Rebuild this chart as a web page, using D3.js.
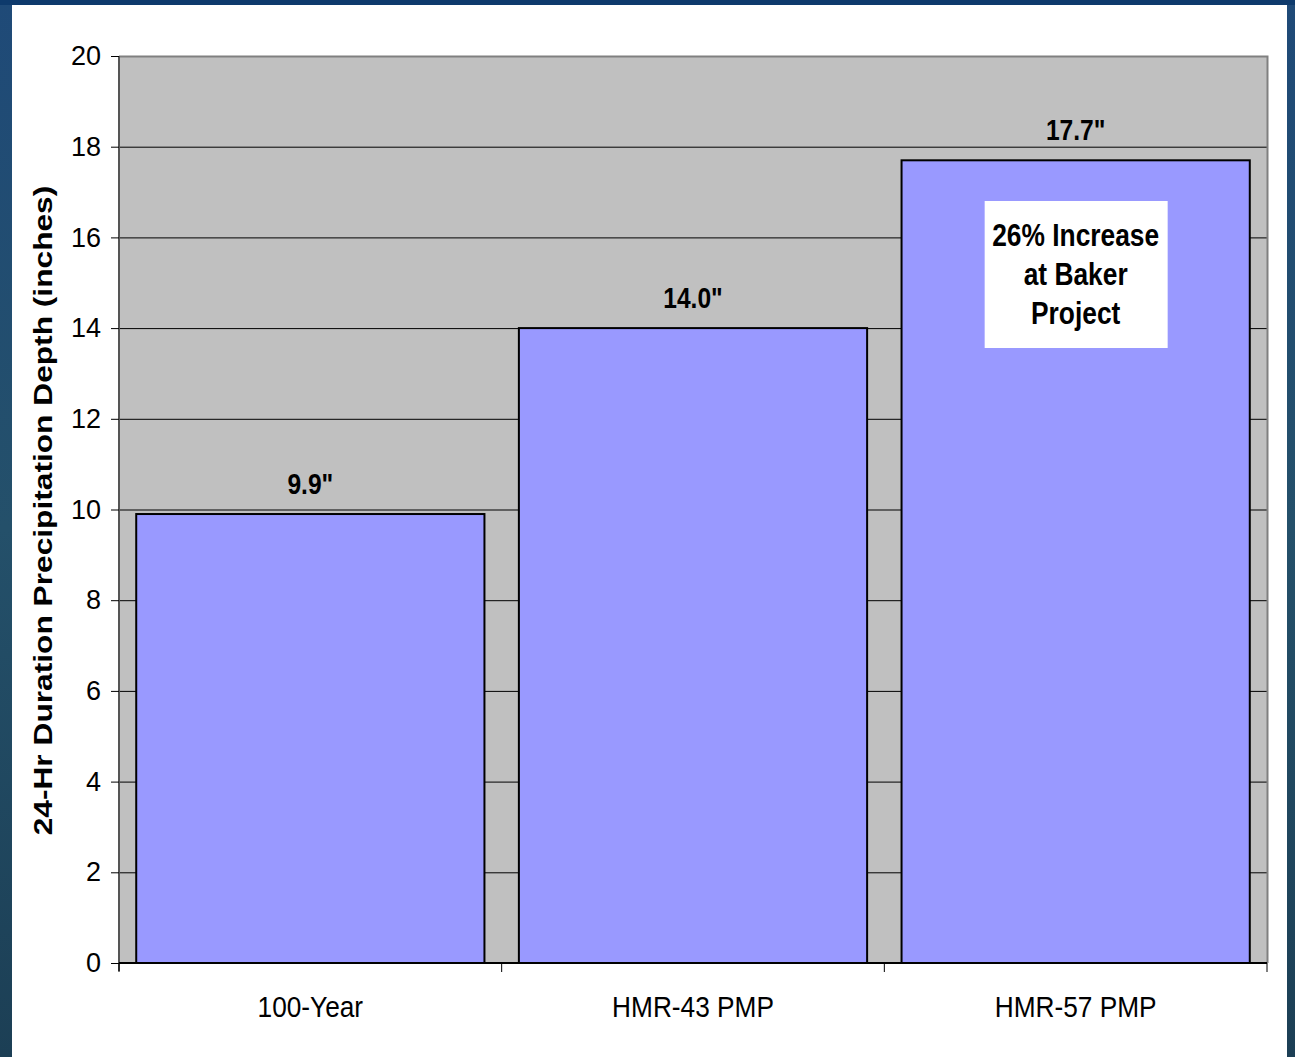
<!DOCTYPE html>
<html><head><meta charset="utf-8">
<script src="https://cdn.jsdelivr.net/npm/d3@7"></script>
<style>body{margin:0;background:#fff}svg{display:block}</style>
</head><body>
<script>
const categories = ["100-Year", "HMR-43 PMP", "HMR-57 PMP"];
const values = [9.9, 14.0, 17.7];
const valueLabels = ['9.9"', '14.0"', '17.7"'];
const yTicks = [0, 2, 4, 6, 8, 10, 12, 14, 16, 18, 20];
const yTitle = "24-Hr Duration Precipitation Depth (inches)";
const noteLines = ["26% Increase", "at Baker", "Project"];

const W = 1295, H = 1057;
const svg = d3.select("body").append("svg").attr("width", W).attr("height", H);
const narrow = "'Liberation Sans Narrow','Arial Narrow','Liberation Sans',Arial,sans-serif";

// background frame
const defs = svg.append("defs");
const lg = defs.append("linearGradient").attr("id","sea").attr("x1",0).attr("y1",0).attr("x2",0).attr("y2",1);
lg.append("stop").attr("offset","0%").attr("stop-color","#1f4a78");
lg.append("stop").attr("offset","50%").attr("stop-color","#24506a");
lg.append("stop").attr("offset","100%").attr("stop-color","#1c3f55");
svg.append("rect").attr("width",W).attr("height",H).attr("fill","url(#sea)");
svg.append("rect").attr("x",0).attr("y",0).attr("width",W).attr("height",5).attr("fill","#0e3a6c");
svg.append("rect").attr("x",12).attr("y",5).attr("width",1275).attr("height",H-5).attr("fill","#ffffff");

const m = {left:119, top:56, right:1267, bottom:963};
const x = d3.scaleBand().domain(categories).range([m.left, m.right]).paddingInner(0.09).paddingOuter(0.045);
const y = d3.scaleLinear().domain([0,20]).range([m.bottom, m.top]);

// plot area
svg.append("rect").attr("x",m.left).attr("y",m.top).attr("width",m.right-m.left).attr("height",m.bottom-m.top)
  .attr("fill","#c0c0c0");

// gridlines
svg.append("g").selectAll("line").data(yTicks.filter(d=>d>0 && d<20)).join("line")
  .attr("x1",m.left).attr("x2",m.right).attr("y1",d=>y(d)+0.5).attr("y2",d=>y(d)+0.5)
  .attr("stroke","#000").attr("stroke-width",1);

// top / right border
svg.append("path").attr("d",`M${m.left},${m.top+0.5}H${m.right+0.5}V${m.bottom}`)
  .attr("fill","none").attr("stroke","#808080").attr("stroke-width",2);

// bars
svg.append("g").selectAll("rect").data(values).join("rect")
  .attr("x",(d,i)=>x(categories[i])).attr("width",x.bandwidth())
  .attr("y",d=>y(d)).attr("height",d=>y(0)-y(d))
  .attr("fill","#9999ff").attr("stroke","#000").attr("stroke-width",2);

// value labels
svg.append("g").selectAll("g").data(values).join("g")
  .attr("transform",(d,i)=>`translate(${x(categories[i])+x.bandwidth()/2},${y(d)-20}) scale(0.82,1)`)
  .append("text")
  .attr("text-anchor","middle").attr("font-family",narrow)
  .attr("font-weight","bold").attr("font-size",30).attr("fill","#000")
  .text((d,i)=>valueLabels[i]);

// y axis
const ya = svg.append("g").attr("transform",`translate(${m.left},0)`)
  .call(d3.axisLeft(y).tickValues(yTicks).tickSize(8).tickPadding(10).tickFormat(d3.format("d")));
ya.select(".domain").attr("stroke","#555").attr("stroke-width",2).attr("d",`M0,${m.top}V${m.bottom+8}`);
ya.selectAll(".tick line").attr("stroke","#000");
ya.selectAll("text").attr("font-family","'Liberation Sans',Arial,sans-serif").attr("font-size",27).attr("fill","#000");

// x axis
const xa = svg.append("g").attr("transform",`translate(0,${m.bottom})`)
  .call(d3.axisBottom(x).tickSize(0).tickPadding(33));
xa.select(".domain").attr("stroke","#000").attr("stroke-width",2).attr("d",`M${m.left},0H${m.right}`);
xa.selectAll("text").attr("font-family",narrow).attr("font-size",30).attr("fill","#000")
  .attr("transform","scale(0.875,1)");
const sep = [m.left, ...categories.slice(1).map(c=>x(c)-x.step()*x.paddingInner()/2), m.right];
svg.append("g").selectAll("line").data(sep).join("line")
  .attr("x1",d=>d).attr("x2",d=>d).attr("y1",m.bottom).attr("y2",m.bottom+9)
  .attr("stroke","#000").attr("stroke-width",1);

// y title (stretched along its length to match the reference)
const tg = svg.append("g");
const tt = tg.append("text").attr("text-anchor","middle").attr("font-family","'Liberation Sans',Arial,sans-serif")
  .attr("font-weight","bold").attr("font-size",25).attr("fill","#000").text(yTitle);
const natural = tt.node().getComputedTextLength();
tg.attr("transform",`translate(52,${(m.top+m.bottom)/2 + 1}) rotate(-90) scale(${650/natural},1)`);

// annotation
const bx = x(categories[2]) + x.bandwidth()/2;
svg.append("rect").attr("x",bx-91).attr("y",201).attr("width",183).attr("height",147).attr("fill","#fff");
svg.append("g").selectAll("g").data(noteLines).join("g")
  .attr("transform",(d,i)=>`translate(${bx},${246+i*39}) scale(0.85,1)`)
  .append("text").attr("text-anchor","middle")
  .attr("font-family",narrow)
  .attr("font-weight","bold").attr("font-size",31).attr("fill","#000").text(d=>d);
</script>
</body></html>
